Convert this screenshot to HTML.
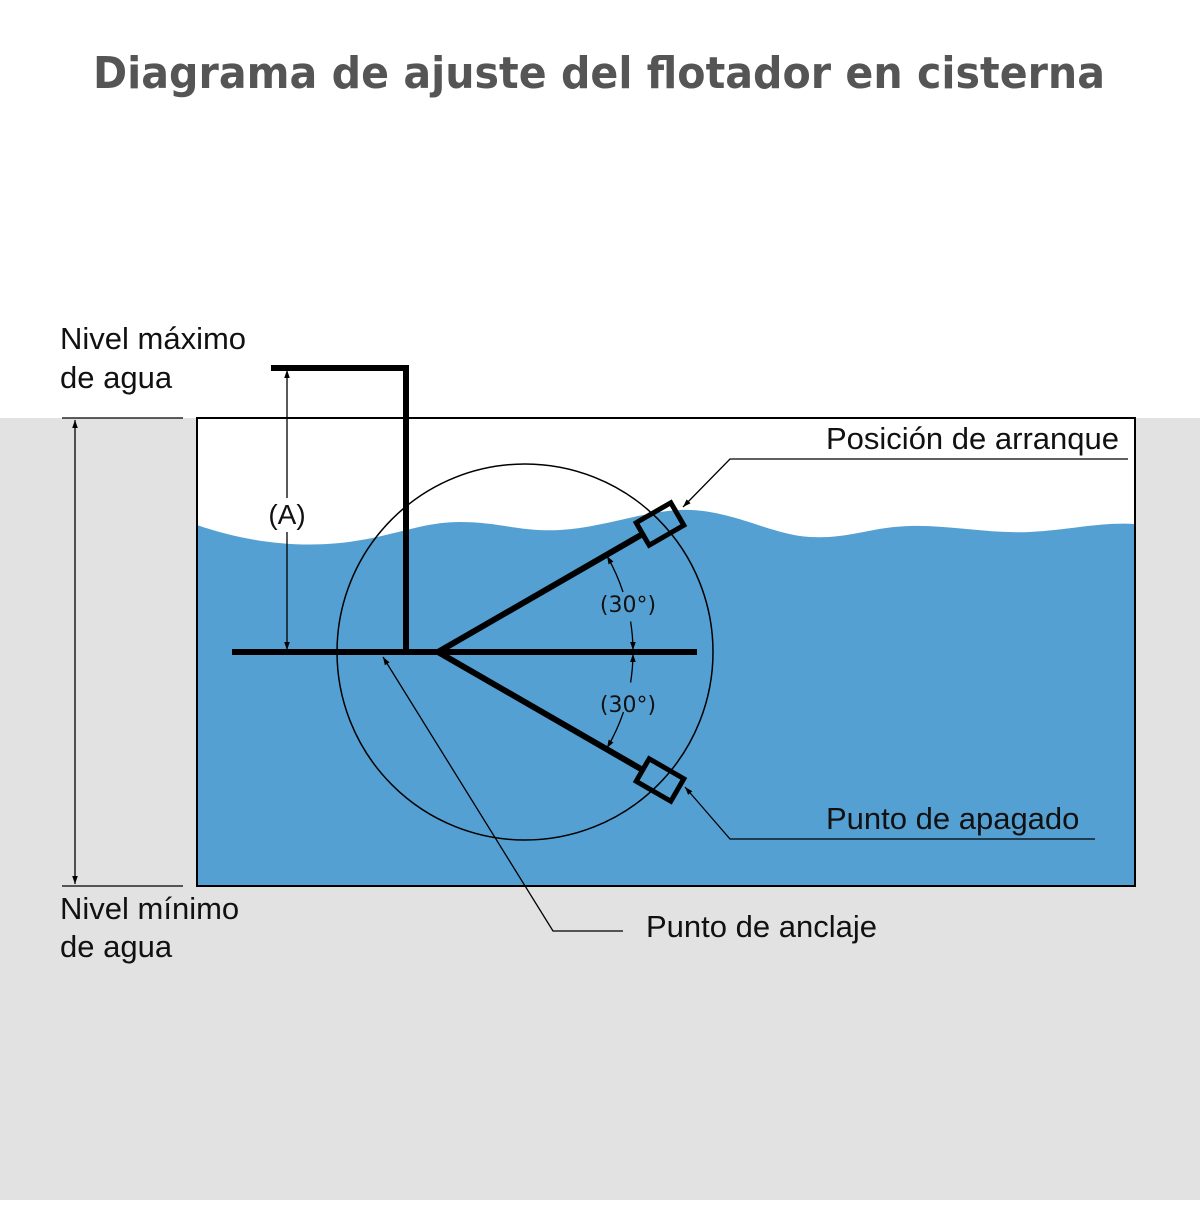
<!DOCTYPE html>
<html><head><meta charset="utf-8"><style>
body{margin:0;width:1200px;height:1200px;overflow:hidden;background:#fff;font-family:"Liberation Sans",sans-serif}
</style></head><body>
<svg width="1200" height="1200" viewBox="0 0 1200 1200" xmlns="http://www.w3.org/2000/svg">
<defs>
<marker id="ar" viewBox="0 0 10 10" refX="10" refY="5" markerWidth="12" markerHeight="8" orient="auto-start-reverse" markerUnits="userSpaceOnUse"><path d="M0,1.5 L10,5 L0,8.5z" fill="#000"/></marker>
</defs>
<rect x="0" y="418" width="1200" height="782" fill="#e2e2e2"/>
<text x="93" y="88" textLength="1012" lengthAdjust="spacingAndGlyphs" font-size="44" font-weight="bold" fill="#555" font-family="DejaVu Sans, Liberation Sans, sans-serif">Diagrama de ajuste del flotador en cisterna</text>
<rect x="197" y="418" width="938" height="468" fill="#fff"/>
<path d="M197,525 C240,540 290,548 340,543 C390,538 420,522 460,522 C500,522 520,532 560,530 C600,528 640,512 680,510 C730,508 770,535 810,537 C850,539 870,527 910,526 C950,525 990,534 1030,532 C1070,530 1100,522 1135,524 L1135,886 L197,886Z" fill="#55a0d3"/>
<rect x="197" y="418" width="938" height="468" fill="none" stroke="#000" stroke-width="2"/>
<circle cx="525" cy="652" r="188" fill="none" stroke="#000" stroke-width="1.5"/>
<g stroke="#000" stroke-width="6" fill="none">
<path d="M271,368 H406 V652"/>
<path d="M232,652 H697"/>
<path d="M438,652 L641,535"/>
<path d="M438,652 L641,769"/>
</g>
<g stroke="#000" stroke-width="5" fill="none">
<rect x="-20" y="-13" width="40" height="26" transform="translate(660,524) rotate(-30)"/>
<rect x="-20" y="-13" width="40" height="26" transform="translate(660,780) rotate(30)"/>
</g>
<g stroke="#000" stroke-width="1.3" fill="none">
<line x1="62" y1="418" x2="183" y2="418"/>
<line x1="62" y1="886" x2="183" y2="886"/>
<line x1="75" y1="420" x2="75" y2="884" marker-start="url(#ar)" marker-end="url(#ar)"/>
<line x1="287" y1="370" x2="287" y2="498" marker-start="url(#ar)"/>
<line x1="287" y1="532" x2="287" y2="650" marker-end="url(#ar)"/>
<path d="M607,556 A195,195 0 0 1 623,592" marker-start="url(#ar)"/>
<path d="M630.6,621.5 A195,195 0 0 1 633,650" marker-end="url(#ar)"/>
<path d="M633,654 A195,195 0 0 1 630.6,682.5" marker-start="url(#ar)"/>
<path d="M623.5,712 A195,195 0 0 1 607,748" marker-end="url(#ar)"/>
<path d="M1128,459 H730 L683,507" marker-end="url(#ar)"/>
<path d="M1095,839 H730 L685,787" marker-end="url(#ar)"/>
<path d="M623,931 H553 L383,657" marker-end="url(#ar)"/>
</g>
<g font-size="31" fill="#111">
<text x="60" y="349">Nivel máximo</text>
<text x="60" y="388">de agua</text>
<text x="60" y="919">Nivel mínimo</text>
<text x="60" y="957">de agua</text>
<text x="826" y="449">Posición de arranque</text>
<text x="826" y="829">Punto de apagado</text>
<text x="646" y="937">Punto de anclaje</text>
</g>
<text x="287" y="524" text-anchor="middle" font-size="28" fill="#111">(A)</text>
<text x="628" y="612" text-anchor="middle" font-size="22" fill="#111" font-family="DejaVu Sans, sans-serif">(30°)</text>
<text x="628" y="712" text-anchor="middle" font-size="22" fill="#111" font-family="DejaVu Sans, sans-serif">(30°)</text>
</svg>
</body></html>
